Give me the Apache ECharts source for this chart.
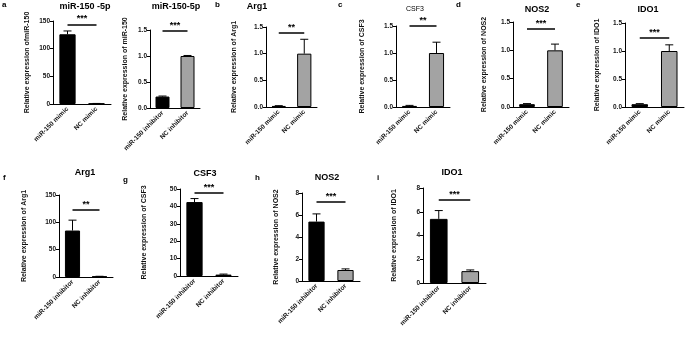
<!DOCTYPE html>
<html>
<head>
<meta charset="utf-8">
<script src="https://cdn.jsdelivr.net/npm/echarts@6/dist/echarts.min.js"></script>
<style>
  html, body { margin: 0; padding: 0; background: #fff; }
  #chart { width: 685px; height: 337px; }
</style>
</head>
<body>
<div id="chart"></div>
<script>
// categories
var mimicCats = ['miR-150 mimic', 'NC mimic'];
var inhibitorCats = ['miR-150 inhibitor', 'NC inhibitor'];

// mean values and error (SD)
var aMimicMean = [126, 0.8],   aMimicErr = [6, 0.2];
var aInhibMean = [0.22, 1.0],  aInhibErr = [0.01, 0.01];
var bArg1Mean  = [0.02, 1.0],  bArg1Err  = [0.005, 0.27];
var cCsf3Mean  = [0.02, 1.0],  cCsf3Err  = [0.01, 0.2];
var dNos2Mean  = [0.05, 1.0],  dNos2Err  = [0.01, 0.11];
var eIdo1Mean  = [0.05, 1.0],  eIdo1Err  = [0.01, 0.11];
var fArg1Mean  = [85, 1],      fArg1Err  = [19, 0.3];
var gCsf3Mean  = [42.5, 0.8],  gCsf3Err  = [2, 0.3];
var hNos2Mean  = [5.4, 1.0],   hNos2Err  = [0.7, 0.1];
var iIdo1Mean  = [5.4, 1.0],   iIdo1Err  = [0.7, 0.1];

// axis ranges [max, interval]
var axisMax      = [150, 1.5, 1.5, 1.5, 1.5, 1.5, 150, 50, 8, 8];
var axisInterval = [50, 0.5, 0.5, 0.5, 0.5, 0.5, 50, 10, 2, 2];

// significance bars: height (data units) and stars
var sigY    = [144, 1.48, 1.39, 1.5, 1.38, 1.23, 123, 47.7, 7.2, 7.0];
var sigText = ['***', '***', '**', '**', '***', '***', '**', '***', '***', '***'];

var titles = ['miR-150 -5p', 'miR-150-5p', 'Arg1', 'CSF3', 'NOS2', 'IDO1', 'Arg1', 'CSF3', 'NOS2', 'IDO1'];
var yNames = ['Relative expression ofmiR-150', 'Relative expression of miR-150', 'Relative expression of Arg1',
  'Relative expression of CSF3', 'Relative expression of NOS2', 'Relative expression of IDO1',
  'Relative expression of Arg1', 'Relative expression of CSF3', 'Relative expression of NOS2',
  'Relative expression of IDO1'];
var panelLetters = ['a', 'b', 'c', 'd', 'e', 'f', 'g', 'h', 'i'];

// layout (pixels)
var panels = [
  {cats: mimicCats,     mean: aMimicMean, err: aMimicErr, l: 53,  r: 111, t: 21,  b: 104, gap: 22, tx: 85,  ty: 2},
  {cats: inhibitorCats, mean: aInhibMean, err: aInhibErr, l: 150, r: 200, t: 30,  b: 108, gap: 21, tx: 176, ty: 2},
  {cats: mimicCats,     mean: bArg1Mean,  err: bArg1Err,  l: 266, r: 317, t: 27,  b: 107, gap: 28, tx: 257, ty: 2},
  {cats: mimicCats,     mean: cCsf3Mean,  err: cCsf3Err,  l: 396, r: 450, t: 26,  b: 107, gap: 30, tx: 415, ty: 6, light: true},
  {cats: mimicCats,     mean: dNos2Mean,  err: dNos2Err,  l: 513, r: 569, t: 22,  b: 107, gap: 25, tx: 537, ty: 5},
  {cats: mimicCats,     mean: eIdo1Mean,  err: eIdo1Err,  l: 625, r: 684, t: 23,  b: 107, gap: 24, tx: 648, ty: 5},
  {cats: inhibitorCats, mean: fArg1Mean,  err: fArg1Err,  l: 59,  r: 113, t: 195, b: 277, gap: 31, tx: 85,  ty: 168},
  {cats: inhibitorCats, mean: gCsf3Mean,  err: gCsf3Err,  l: 180, r: 238, t: 189, b: 276, gap: 32, tx: 205, ty: 169},
  {cats: inhibitorCats, mean: hNos2Mean,  err: hNos2Err,  l: 302, r: 360, t: 193, b: 281, gap: 22, tx: 327, ty: 173},
  {cats: inhibitorCats, mean: iIdo1Mean,  err: iIdo1Err,  l: 423, r: 486, t: 188, b: 283, gap: 25, tx: 452, ty: 168}
];
var letterPos = [[2, 1], [215, 1], [338, 1], [456, 1], [576, 1], [3, 174], [123, 176], [255, 174], [377, 174]];

var FONT = 'Arial, "Liberation Sans", sans-serif';
var chart = echarts.init(document.getElementById('chart'));

var grid = [], xAxis = [], yAxis = [], series = [], title = [];

panels.forEach(function (p, k) {
  grid.push({left: p.l, top: p.t, width: p.r - p.l, height: p.b - p.t});
  xAxis.push({
    type: 'category', gridIndex: k, data: p.cats,
    axisLine: {lineStyle: {color: '#000', width: 1}},
    axisTick: {alignWithLabel: true, length: 3, lineStyle: {color: '#000'}},
    axisLabel: {interval: 0, rotate: 45, fontSize: 6.5, fontWeight: 'bold', color: '#111', margin: 4, fontFamily: FONT}
  });
  yAxis.push({
    type: 'value', gridIndex: k, min: 0, max: axisMax[k], interval: axisInterval[k],
    name: yNames[k], nameLocation: 'middle', nameGap: p.gap,
    nameTextStyle: {fontSize: 7, fontWeight: 'bold', color: '#111', fontFamily: FONT},
    axisLine: {show: true, lineStyle: {color: '#000', width: 1}},
    axisTick: {show: true, length: 3, lineStyle: {color: '#000'}},
    splitLine: {show: false},
    axisLabel: {fontSize: 6.5, fontWeight: 'bold', color: '#111', margin: 3, fontFamily: FONT,
      formatter: function (v) { return axisInterval[k] < 1 ? v.toFixed(1) : String(v); }}
  });
  series.push({
    type: 'bar', xAxisIndex: k, yAxisIndex: k, barWidth: '56%',
    data: p.mean.map(function (v, j) {
      return {value: v, itemStyle: {color: j ? '#a3a3a3' : '#000', borderColor: '#000', borderWidth: 1}};
    }),
    markLine: {
      silent: true, symbol: 'none',
      lineStyle: {color: '#000', width: 1.5, type: 'solid'},
      label: {show: true, position: 'middle', formatter: sigText[k], fontSize: 9, fontWeight: 'bold',
        color: '#000', distance: 1, fontFamily: FONT},
      data: [[{coord: [p.cats[0], sigY[k]]}, {coord: [p.cats[1], sigY[k]]}]]
    }
  });
  series.push({
    type: 'custom', xAxisIndex: k, yAxisIndex: k, z: 5,
    data: p.mean.map(function (v, j) { return [j, v, v + p.err[j]]; }),
    renderItem: function (params, api) {
      var base = api.coord([api.value(0), api.value(1)]);
      var top = api.coord([api.value(0), api.value(2)]);
      var hw = 4;
      var st = {stroke: '#000', lineWidth: 1};
      return {type: 'group', children: [
        {type: 'line', shape: {x1: top[0], y1: top[1], x2: base[0], y2: base[1]}, style: st},
        {type: 'line', shape: {x1: top[0] - hw, y1: top[1], x2: top[0] + hw, y2: top[1]}, style: st}
      ]};
    }
  });
  title.push({
    text: titles[k], left: p.tx, top: p.ty, textAlign: 'center', padding: 0,
    textStyle: {fontSize: p.light ? 7 : 9, fontWeight: p.light ? 'normal' : 'bold', color: '#000', fontFamily: FONT}
  });
});

panelLetters.forEach(function (s, k) {
  title.push({text: s, left: letterPos[k][0], top: letterPos[k][1], padding: 0,
    textStyle: {fontSize: 8, fontWeight: 'bold', color: '#000', fontFamily: FONT}});
});

chart.setOption({
  animation: false,
  title: title,
  grid: grid,
  xAxis: xAxis,
  yAxis: yAxis,
  series: series
});
</script>
</body>
</html>
